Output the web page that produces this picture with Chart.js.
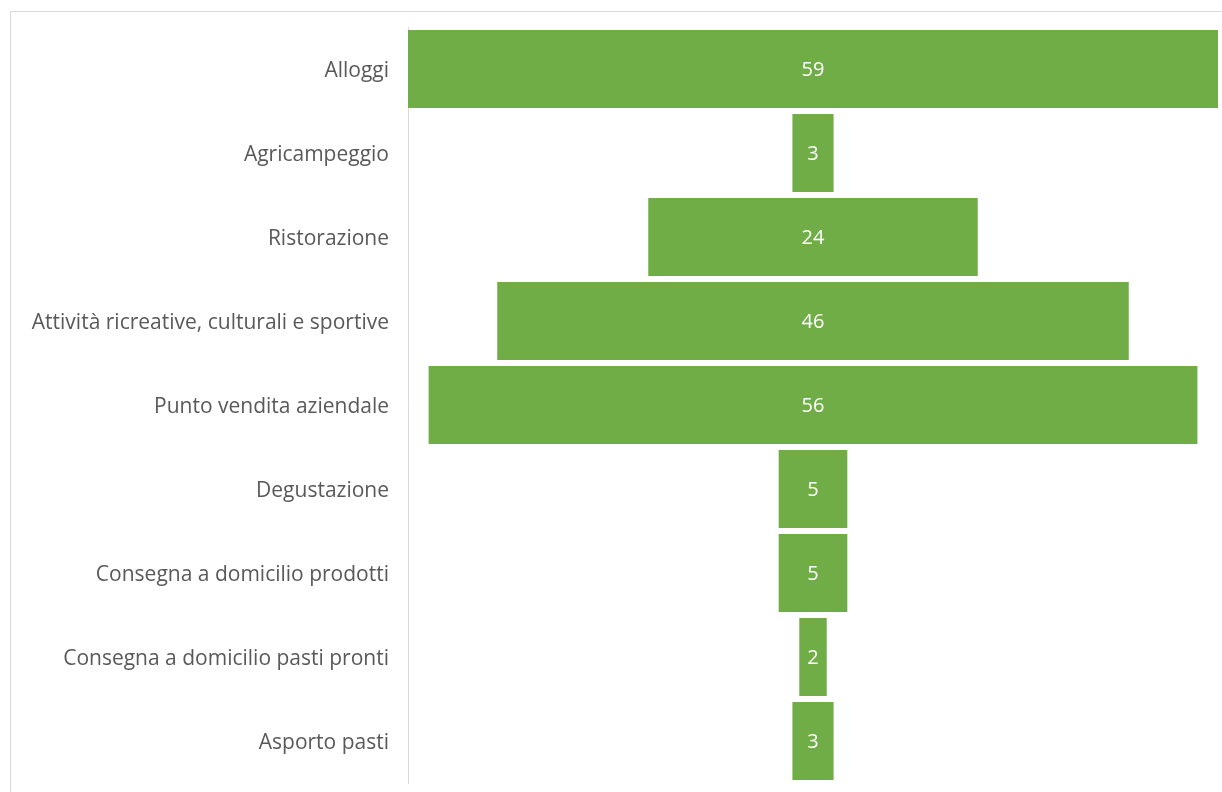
<!DOCTYPE html>
<html>
<head>
<meta charset="utf-8">
<script src="https://cdn.jsdelivr.net/npm/chart.js@4"></script>
<style>
  html, body { margin: 0; padding: 0; background: #fff; }
  #wrap { position: relative; width: 1222px; height: 792px; overflow: hidden; }
  #frame { position: absolute; left: 10px; top: 11px; width: 1230px; height: 800px;
           border-top: 1px solid #d9d9d9; border-left: 1px solid #d9d9d9; }
  #chart { position: absolute; left: 0; top: 0; }
</style>
</head>
<body>
<div id="wrap">
  <div id="frame"></div>
  <canvas id="chart" width="1222" height="792"></canvas>
</div>
<script>
// funnel categories and values
const categories = [
    'Alloggi',
    'Agricampeggio',
    'Ristorazione',
    'Attività ricreative, culturali e sportive',
    'Punto vendita aziendale',
    'Degustazione',
    'Consegna a domicilio prodotti',
    'Consegna a domicilio pasti pronti',
    'Asporto pasti'
];
const values = [59, 3, 24, 46, 56, 5, 5, 2, 3];

const maxVal = Math.max(...values);

// centered bars -> funnel
const spans = values.map(v => [-v / 2, v / 2]);

// value labels in the middle of each bar
const centerLabels = {
    id: 'centerLabels',
    afterDatasetsDraw(chart) {
        const ctx = chart.ctx;
        const meta = chart.getDatasetMeta(0);
        ctx.save();
        ctx.fillStyle = '#ffffff';
        ctx.font = '20px "Open Sans"';
        ctx.textAlign = 'center';
        ctx.textBaseline = 'middle';
        meta.data.forEach(function (bar, i) {
            const x = chart.scales.x.getPixelForValue(0);
            ctx.fillText(String(values[i]), x, bar.y + 1);
        });
        ctx.restore();
    }
};

const ctx = document.getElementById('chart').getContext('2d');
new Chart(ctx, {
    type: 'bar',
    data: {
        labels: categories,
        datasets: [{
            data: spans,
            backgroundColor: '#70ad47',
            borderWidth: 0,
            categoryPercentage: 1,
            barPercentage: 0.93
        }]
    },
    options: {
        indexAxis: 'y',
        responsive: false,
        animation: false,
        layout: { padding: { top: 27, bottom: 9, right: 4, left: 0 } },
        plugins: {
            legend: { display: false },
            tooltip: { enabled: false }
        },
        scales: {
            x: {
                display: false,
                min: -maxVal / 2,
                max: maxVal / 2
            },
            y: {
                afterFit(scale) {
                    scale.width = 408;
                    scale.paddingTop = 0;
                    scale.paddingBottom = 0;
                },
                grid: { display: false, drawTicks: false },
                border: { display: true, color: '#d9d9d9', width: 1 },
                ticks: {
                    color: '#595959',
                    font: { family: 'Open Sans', size: 21 },
                    padding: 19,
                    labelOffset: 2
                }
            }
        }
    },
    plugins: [centerLabels]
});
</script>
</body>
</html>
